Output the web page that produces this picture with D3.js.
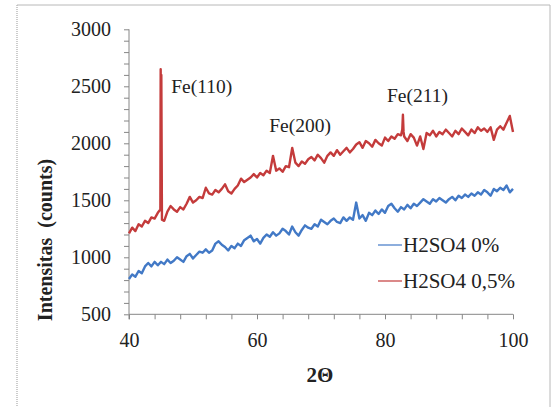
<!DOCTYPE html>
<html>
<head>
<meta charset="utf-8">
<script src="https://cdn.jsdelivr.net/npm/d3@7"></script>
<style>
  body { margin: 0; background: #fff; }
  svg { display: block; font-family: "Liberation Serif", "Times New Roman", serif; }
  .axis path, .axis line { stroke: #868686; }
  .axis text { fill: #222; font-size: 20px; font-family: "Liberation Serif", serif; }
</style>
</head>
<body>
<svg id="chart" width="558" height="407"></svg>
<script>
// 2-theta sampling grid (degrees) and intensities
const angles = d3.range(40, 100.001, 0.5);

const blueCounts = [
  810, 850, 830, 880, 860, 920, 950, 920, 960, 930,
  960, 940, 980, 950, 970, 1000, 980, 960, 1010, 1030,
  990, 1020, 1050, 1040, 1070, 1040, 1060, 1120, 1140, 1110,
  1090, 1060, 1100, 1080, 1120, 1100, 1150, 1170, 1190, 1140,
  1160, 1120, 1170, 1200, 1180, 1220, 1190, 1210, 1250, 1230,
  1200, 1270, 1220, 1190, 1240, 1280, 1260, 1250, 1290, 1270,
  1330, 1310, 1290, 1320, 1340, 1310, 1300, 1350, 1320, 1350,
  1330, 1480, 1340, 1370, 1320, 1390, 1370, 1410, 1380, 1420,
  1390, 1450, 1470, 1430, 1400, 1440, 1420, 1460, 1430, 1470,
  1450, 1480, 1510, 1490, 1470, 1510, 1490, 1520, 1500, 1480,
  1510, 1530, 1500, 1540, 1520, 1550, 1530, 1560, 1540, 1570,
  1550, 1590, 1570, 1540, 1600, 1580, 1610, 1590, 1630, 1570,
  1600
];

const redCounts = [
  1210, 1260, 1230, 1290, 1270, 1320, 1300, 1350, 1340, 1390,
  1500, 1320, 1400, 1450, 1420, 1400, 1440, 1420, 1470, 1530,
  1480, 1500, 1530, 1520, 1610, 1560, 1550, 1590, 1570, 1600,
  1640, 1580, 1560, 1600, 1630, 1690, 1660, 1680, 1700, 1730,
  1700, 1740, 1720, 1760, 1740, 1890, 1760, 1780, 1750, 1800,
  1790, 1960, 1830, 1800, 1840, 1820, 1860, 1880, 1850, 1900,
  1870, 1830, 1890, 1920, 1890, 1940, 1900, 1930, 1960, 1920,
  1950, 1990, 2010, 1960, 2020, 2000, 1970, 2030, 2000, 1980,
  2050, 2020, 2060, 2040, 2080, 2070, 2060, 2020, 2080, 2050,
  1980, 2060, 1950, 2090, 2070, 2110, 2060, 2100, 2080, 2120,
  2090, 2060, 2110, 2080, 2130, 2100, 2070, 2120, 2090, 2140,
  2110, 2130, 2100, 2140, 2030, 2120, 2150, 2120, 2180, 2240,
  2100
];

// sharp diffraction peaks in the red pattern, [angle, counts]
const redPeaks = [
  [44.9, 1420], [44.95, 2650], [45.05, 2600], [45.15, 1330],
  [82.7, 2120], [82.8, 2250], [82.9, 2100]
];

const peakLabels = ["Fe(110)", "Fe(200)", "Fe(211)"];
const peakLabelAt = [[46.6, 2440], [61.9, 2100], [80.3, 2360]];

const seriesNames = ["H2SO4 0%", "H2SO4 0,5%"];
const seriesColors = ["#4279c6", "#c43b3b"];

const xTickLabels = [40, 60, 80, 100];
const xMinorTicks = [40, 44, 48, 52, 56, 60, 64, 68, 72, 76, 80, 84, 88, 92, 96, 100];
const yTickLabels = [500, 1000, 1500, 2000, 2500, 3000];
const yMinorTicks = d3.range(500, 3001, 100);

const svg = d3.select("#chart");

// outer frame
svg.append("line").attr("x1", 17).attr("y1", 5).attr("x2", 17).attr("y2", 407)
  .attr("stroke", "#999").attr("stroke-dasharray", "1,1");
svg.append("line").attr("x1", 17).attr("y1", 5).attr("x2", 550).attr("y2", 5)
  .attr("stroke", "#b8b8b8");
svg.append("line").attr("x1", 550).attr("y1", 5).attr("x2", 550).attr("y2", 407)
  .attr("stroke", "#b8b8b8");

const x = d3.scaleLinear().domain([40, 100]).range([129, 513]);
const y = d3.scaleLinear().domain([500, 3000]).range([314.3, 29.3]);

const xAxis = d3.axisBottom(x).tickValues(xMinorTicks).tickSize(5).tickPadding(14)
  .tickFormat(d => xTickLabels.includes(d) ? d : "");
const yAxis = d3.axisLeft(y).tickValues(yMinorTicks).tickSize(5).tickPadding(13)
  .tickFormat(d => yTickLabels.includes(d) ? d : "");

svg.append("g").attr("class", "axis")
  .attr("transform", `translate(0,${y(500)})`)
  .call(xAxis)
  .call(g => g.select(".domain").attr("d", `M${x(40)},0.5V5M${x(40)},0H${x(100)}`));

svg.append("g").attr("class", "axis")
  .attr("transform", `translate(${x(40)},0)`)
  .call(yAxis)
  .call(g => g.select(".domain").attr("d", `M0,${y(3000)}V${y(500)}`));

// series lines
const line = d3.line().x(d => x(d[0])).y(d => y(d[1]));

const bluePts = angles.map((a, i) => [a, blueCounts[i]]);
const redPts = angles.map((a, i) => [a, redCounts[i]])
  .concat(redPeaks)
  .sort((a, b) => a[0] - b[0]);

svg.append("path").datum(bluePts)
  .attr("d", line).attr("fill", "none")
  .attr("stroke", seriesColors[0]).attr("stroke-width", 2.4)
  .attr("stroke-linejoin", "round");

svg.append("path").datum(redPts)
  .attr("d", line).attr("fill", "none")
  .attr("stroke", seriesColors[1]).attr("stroke-width", 2.4)
  .attr("stroke-linejoin", "round");

// peak labels
svg.selectAll(".peak").data(peakLabels).enter().append("text")
  .attr("class", "peak")
  .attr("x", (d, i) => x(peakLabelAt[i][0]))
  .attr("y", (d, i) => y(peakLabelAt[i][1]))
  .attr("font-size", 19.5).attr("fill", "#222")
  .text(d => d);

// legend
const legend = svg.append("g").attr("transform", "translate(378,245)");
seriesNames.forEach((name, i) => {
  const row = legend.append("g").attr("transform", `translate(0,${i * 36})`);
  row.append("line").attr("x1", 0).attr("x2", 24).attr("y1", 0).attr("y2", 0)
    .attr("stroke", seriesColors[i]).attr("stroke-width", 1.2);
  row.append("text").attr("x", 25).attr("y", 7)
    .attr("font-size", 21).attr("fill", "#222").text(name);
});

// axis titles
svg.append("text")
  .attr("x", 320).attr("y", 382)
  .attr("text-anchor", "middle")
  .attr("font-size", 21).attr("font-weight", "bold").attr("fill", "#222")
  .text("2Θ");

svg.append("text")
  .attr("transform", "translate(52,240) rotate(-90)")
  .attr("text-anchor", "middle")
  .attr("font-size", 20).attr("font-weight", "bold").attr("fill", "#222")
  .attr("xml:space", "preserve")
  .style("white-space", "pre")
  .text("Intensitas  (counts)");
</script>
</body>
</html>
